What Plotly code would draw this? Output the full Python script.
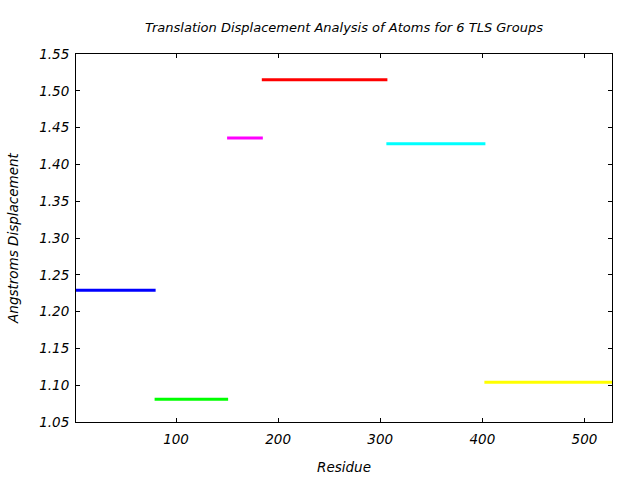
import plotly.graph_objects as go

groups = ["TLS 1", "TLS 2", "TLS 3", "TLS 4", "TLS 5", "TLS 6"]
res_start = [2, 79, 150, 184, 306, 402]
res_end = [80, 151, 185, 307, 403, 527]
displacement = [1.229, 1.081, 1.436, 1.515, 1.428, 1.104]
colors = ["#0000ff", "#00ff00", "#ff00ff", "#ff0000", "#00ffff", "#ffff00"]

x_ticks = [100, 200, 300, 400, 500]
y_ticks = [1.05, 1.10, 1.15, 1.20, 1.25, 1.30, 1.35, 1.40, 1.45, 1.50, 1.55]

fig = go.Figure()
for g, s, e, v, c in zip(groups, res_start, res_end, displacement, colors):
    fig.add_trace(go.Scatter(x=[s, e], y=[v, v], mode="lines",
                             line=dict(color=c, width=3), name=g,
                             showlegend=False))

font_family = "DejaVu Sans"
fsz = 13.5
fig.update_layout(
    width=640, height=480,
    margin=dict(l=76, r=28, t=54, b=58),
    paper_bgcolor="white", plot_bgcolor="white",
    title=dict(text="Translation Displacement Analysis of Atoms for 6 TLS Groups",
               x=(76 + 612) / 2 / 640, xanchor="center", y=1 - 27 / 480, yanchor="middle",
               font=dict(family=font_family, size=13, color="black", style="italic")),
    xaxis=dict(range=[2, 527], tickvals=x_ticks, ticktext=[str(v) for v in x_ticks],
               ticks="inside", ticklen=4, tickcolor="black", showgrid=False,
               zeroline=False, showline=True, linecolor="black", linewidth=1,
               mirror="ticks", ticklabelstandoff=5, automargin=False,
               tickfont=dict(family=font_family, size=fsz, color="black", style="italic"),
               title=dict(text="Residue", standoff=16,
                          font=dict(family=font_family, size=fsz, color="black", style="italic"))),
    yaxis=dict(range=[1.05, 1.55], tickvals=y_ticks, ticktext=[f"{v:.2f}" for v in y_ticks],
               ticks="inside", ticklen=4, tickcolor="black", showgrid=False,
               zeroline=False, showline=True, linecolor="black", linewidth=1,
               mirror="ticks", ticklabelstandoff=3, automargin=False,
               tickfont=dict(family=font_family, size=fsz, color="black", style="italic"),
               title=dict(text="Angstroms Displacement", standoff=17,
                          font=dict(family=font_family, size=fsz, color="black", style="italic"))),
)

fig.write_html("out.html")
